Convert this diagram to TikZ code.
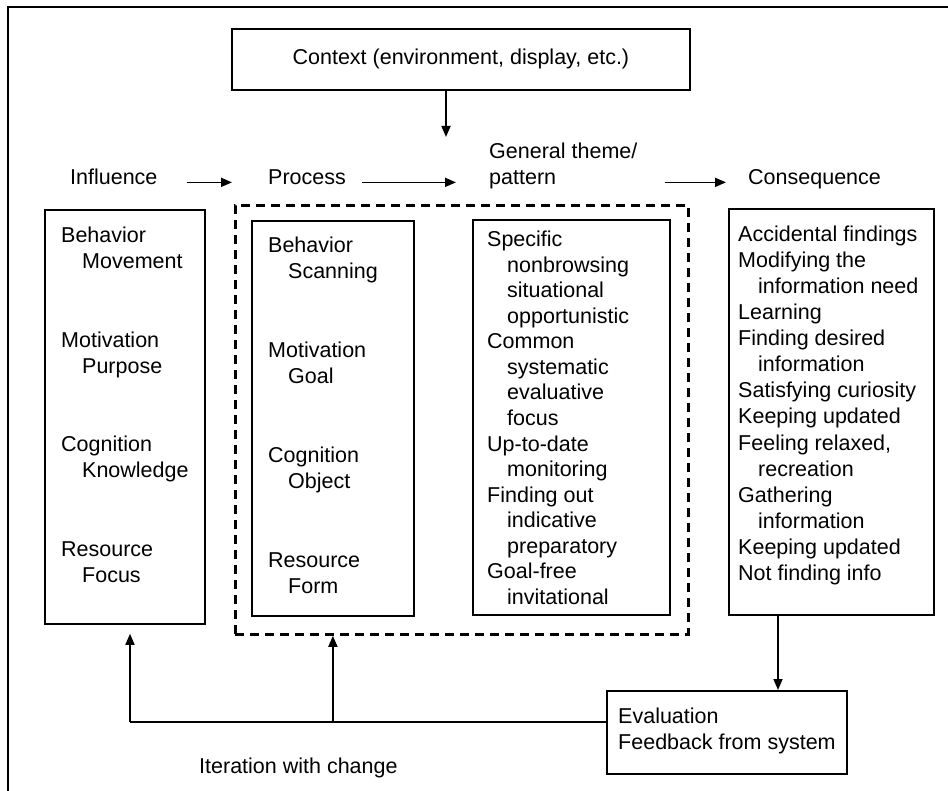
\documentclass[tikz,border=0pt]{standalone}
\usepackage{fontspec}
\setmainfont{Liberation Sans}
\usetikzlibrary{arrows.meta}

\tikzset{
  box/.style={draw, line width=1.8pt, rectangle, anchor=north west, inner sep=0pt},
  dashbox/.style={draw, line width=2.8pt, dash pattern=on 9pt off 6pt, rectangle, anchor=north west, inner sep=0pt},
  txt/.style={anchor=base west, inner sep=0pt, font=\fontsize{21.5}{26}\selectfont},
  arr/.style={line width=1.7pt, -{Triangle[length=11pt,width=9pt]}},
  wire/.style={line width=1.7pt},
  frame/.style={line width=2pt}
}

\begin{document}
\begin{tikzpicture}[x=1pt,y=-1pt]
\useasboundingbox (0,0) rectangle (948,791);

% page frame (top and left edges)
\draw[frame] (8,791) -- (8,7.5) -- (948,7.5);

% context box
\node[box, minimum width=458pt, minimum height=61pt,
      font=\fontsize{21.5}{26}\selectfont] (ctx) at (231,28) {Context (environment, display, etc.)};
\coordinate (ctxend) at (446,137);
\draw[arr] (ctx.south -| ctxend) -- (ctxend);

% column headings
\node[txt] (hinf)  at (70,185)  {Influence};
\node[txt] (hproc) at (268,185) {Process};
\node[txt] (hgen)  at (489,159) {General theme/};
\node[txt] (hpat)  at (489,185) {pattern};
\node[txt] (hcons) at (748,185) {Consequence};

\draw[arr, shorten <=29pt, shorten >=36pt] (hinf.mid east) -- (hproc.mid west);
\draw[arr, shorten <=16pt, shorten >=33pt] (hproc.mid east) -- (hpat.mid west);
\draw[arr] ([xshift=27pt]hgen.east |- hpat.mid) -- ([xshift=-22pt]hcons.mid west);

% boxes
\node[box, minimum width=160pt, minimum height=414pt] (infl) at (44,209) {};
\node[dashbox, minimum width=453pt, minimum height=429pt] (dash) at (234,204) {};
\node[box, minimum width=162pt, minimum height=395pt] (proc) at (251,220) {};
\node[box, minimum width=197pt, minimum height=395pt] (theme) at (472,219) {};
\node[box, minimum width=205pt, minimum height=406pt] (cons) at (728,208) {};
\node[box, minimum width=240pt, minimum height=83pt] (eval) at (606,690) {};

% influence entries
\node[txt] (i1a) at (61,243) {Behavior};
\node[txt] (i1b) at (82,269) {Movement};
\node[txt] (i2a) at (61,348) {Motivation};
\node[txt] (i2b) at (82,374) {Purpose};
\node[txt] (i3a) at (61,452) {Cognition};
\node[txt] (i3b) at (82,478) {Knowledge};
\node[txt] (i4a) at (61,556) {Resource};
\node[txt] (i4b) at (82,582) {Focus};

% process entries
\node[txt] (p1a) at (268,253) {Behavior};
\node[txt] (p1b) at (288,279) {Scanning};
\node[txt] (p2a) at (268,358) {Motivation};
\node[txt] (p2b) at (288,384) {Goal};
\node[txt] (p3a) at (268,462) {Cognition};
\node[txt] (p3b) at (288,488) {Object};
\node[txt] (p4a) at (268,567) {Resource};
\node[txt] (p4b) at (288,593) {Form};

% general theme / pattern entries
\node[txt] (t1)  at (487,247.0) {Specific};
\node[txt] (t2)  at (507,272.5) {nonbrowsing};
\node[txt] (t3)  at (507,298.0) {situational};
\node[txt] (t4)  at (507,323.5) {opportunistic};
\node[txt] (t5)  at (487,349.0) {Common};
\node[txt] (t6)  at (507,374.5) {systematic};
\node[txt] (t7)  at (507,400.0) {evaluative};
\node[txt] (t8)  at (507,425.5) {focus};
\node[txt] (t9)  at (487,451.0) {Up-to-date};
\node[txt] (t10) at (507,476.5) {monitoring};
\node[txt] (t11) at (487,502.0) {Finding out};
\node[txt] (t12) at (507,527.5) {indicative};
\node[txt] (t13) at (507,553.0) {preparatory};
\node[txt] (t14) at (487,578.5) {Goal-free};
\node[txt] (t15) at (507,604.0) {invitational};

% consequence entries
\node[txt] (c1)  at (738,242) {Accidental findings};
\node[txt] (c2)  at (738,268) {Modifying the};
\node[txt] (c3)  at (758,294) {information need};
\node[txt] (c4)  at (738,320) {Learning};
\node[txt] (c5)  at (738,346) {Finding desired};
\node[txt] (c6)  at (758,372) {information};
\node[txt] (c7)  at (738,398) {Satisfying curiosity};
\node[txt] (c8)  at (738,424) {Keeping updated};
\node[txt] (c9)  at (738,450) {Feeling relaxed,};
\node[txt] (c10) at (758,476) {recreation};
\node[txt] (c11) at (738,502) {Gathering};
\node[txt] (c12) at (758,528) {information};
\node[txt] (c13) at (738,554) {Keeping updated};
\node[txt] (c14) at (738,580) {Not finding info};

% evaluation entries
\node[txt] (e1) at (618,723) {Evaluation};
\node[txt] (e2) at (618,749) {Feedback from system};

% feedback loop
\draw[arr] ([xshift=50pt]cons.south west) -- ([xshift=50pt]cons.south west |- eval.north);
\coordinate (iter) at (130,722);
\draw[wire] (eval.west |- iter) -- (iter);
\draw[arr, shorten >=9pt] (iter) -- (iter |- infl.south);
\draw[arr] (proc.south |- iter) -- (proc.south |- dash.south);

\node[txt] (itlab) at (199,773) {Iteration with change};
\end{tikzpicture}
\end{document}
